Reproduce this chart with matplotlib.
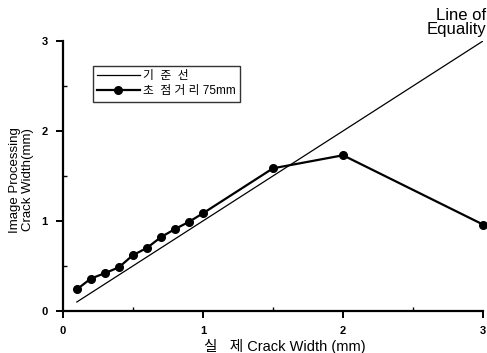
import matplotlib
matplotlib.use("Agg")
import matplotlib.pyplot as plt
from matplotlib.ticker import MultipleLocator

plt.rcParams['font.family'] = ['Liberation Sans', 'Noto Sans CJK KR', 'DejaVu Sans']

# line of equality
eq_x = [0.1, 3.0]
eq_y = [0.1, 3.0]

# measured: focal distance 75mm
real_w = [0.1, 0.2, 0.3, 0.4, 0.5, 0.6, 0.7, 0.8, 0.9, 1.0, 1.5, 2.0, 3.0]
img_w = [0.24, 0.36, 0.42, 0.485, 0.62, 0.70, 0.82, 0.91, 0.99, 1.085, 1.585, 1.73, 0.96]

fig = plt.figure(figsize=(4.87, 3.53), dpi=100)
ax = fig.add_axes([0.129, 0.119, 0.863, 0.765])

ax.plot(eq_x, eq_y, color="black", lw=0.9, label="기  준  선")
ax.plot(real_w, img_w, color="black", lw=1.6, marker="o", ms=5.5,
        label="초  점 거 리 75mm", clip_on=False)

ax.set_xlim(0, 3)
ax.set_ylim(0, 3)
for s in ("top", "right"):
    ax.spines[s].set_visible(False)
for s in ("left", "bottom"):
    ax.spines[s].set_linewidth(1.6)

ax.xaxis.set_major_locator(MultipleLocator(1))
ax.yaxis.set_major_locator(MultipleLocator(1))
ax.xaxis.set_minor_locator(MultipleLocator(0.5))
ax.yaxis.set_minor_locator(MultipleLocator(0.5))
ax.tick_params(which="major", direction="out", length=5, width=1.4,
               labelsize=8, pad=6)
ax.tick_params(which="minor", direction="in", length=3, width=1.0)
for lab in ax.get_xticklabels() + ax.get_yticklabels():
    lab.set_fontweight("bold")

fig.text(0.585, 0.017, "실   제 Crack Width (mm)", ha="center", va="center",
         fontsize=10.5)
fig.text(0.045, 0.49, "Image Processing\nCrack Width(mm)", ha="center",
         va="center", rotation=90, fontsize=9.5, linespacing=1.1)

fig.text(0.998, 0.978, "Line of\nEquality", ha="right", va="top",
         fontsize=12, linespacing=0.95)

leg = ax.legend(loc="upper left", bbox_to_anchor=(0.058, 0.93), fontsize=8.5,
                frameon=True, fancybox=False, edgecolor="black",
                handlelength=3.6, borderpad=0.35, labelspacing=0.3,
                handletextpad=0.3)
leg.get_frame().set_linewidth(1.0)

fig.savefig("out.png", dpi=100)
